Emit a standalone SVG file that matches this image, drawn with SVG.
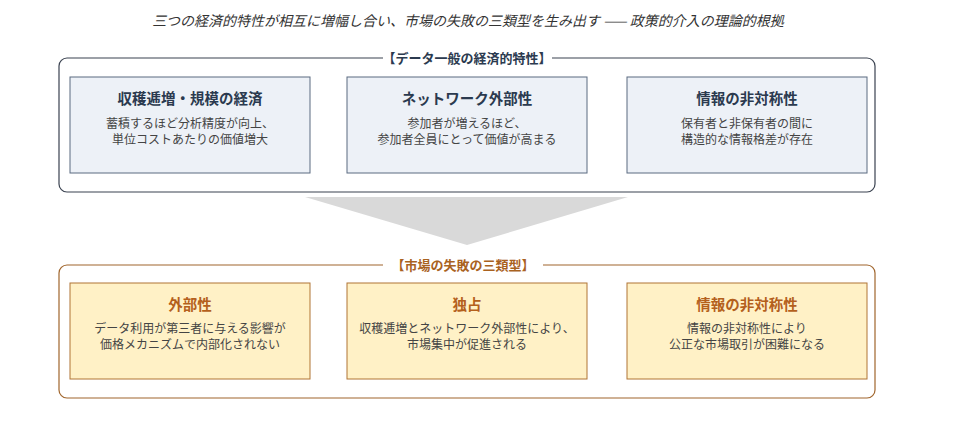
<svg xmlns="http://www.w3.org/2000/svg" width="954" height="423" viewBox="0 0 954 423">
<style>
text{font-family:"Noto Sans CJK JP","Noto Sans",sans-serif;text-anchor:middle}
.cap{font-size:14px;font-style:italic;fill:#333}
.grp{fill:#fff;stroke-width:1.2}
.g1{stroke:#3a4250}
.g2{stroke:#a0652c}
.lbl1{font-size:13px;font-weight:bold;fill:#2b3a4f}
.lbl2{font-size:13px;font-weight:bold;fill:#a9621f}
.b1{fill:#edf1f7;stroke:#5a6a80;stroke-width:1}
.b2{fill:#fff1c6;stroke:#b07434;stroke-width:1}
.t1{font-size:14.5px;font-weight:bold;fill:#2b3a4f}
.t2{font-size:14.5px;font-weight:bold;fill:#b4601c}
.d{font-size:12px;fill:#444}
</style>
<rect width="954" height="423" fill="#fff"/>
<text class="cap" x="468" y="26">三つの経済的特性が相互に増幅し合い、市場の失敗の三類型を生み出す —— 政策的介入の理論的根拠</text>

<g id="group-top">
<rect class="grp g1" x="59" y="58" width="816" height="134" rx="8"/>
<rect x="383" y="50" width="169" height="16" fill="#fff"/>
<text class="lbl1" x="467" y="63">【データ一般の経済的特性】</text>
</g>
<g id="connectors">
<polygon points="305,197 628,197 467,245" fill="#d9d9d9"/>
</g>
<g id="group-bottom">
<rect class="grp g2" x="59" y="265" width="816" height="133" rx="8"/>
<rect x="383" y="257" width="160" height="16" fill="#fff"/>
<text class="lbl2" x="463" y="270">【市場の失敗の三類型】</text>
</g>

<g id="n1">
<rect class="b1" x="70" y="77" width="240" height="96"/>
<text class="t1" x="190" y="104">収穫逓増・規模の経済</text>
<text class="d" x="190" y="128">蓄積するほど分析精度が向上、</text>
<text class="d" x="190" y="144">単位コストあたりの価値増大</text>
</g>
<g id="n2">
<rect class="b1" x="347" y="77" width="240" height="96"/>
<text class="t1" x="467" y="104">ネットワーク外部性</text>
<text class="d" x="467" y="128">参加者が増えるほど、</text>
<text class="d" x="467" y="144">参加者全員にとって価値が高まる</text>
</g>
<g id="n3">
<rect class="b1" x="627" y="77" width="240" height="96"/>
<text class="t1" x="747" y="104">情報の非対称性</text>
<text class="d" x="747" y="128">保有者と非保有者の間に</text>
<text class="d" x="747" y="144">構造的な情報格差が存在</text>
</g>

<g id="n4">
<rect class="b2" x="70" y="283" width="240" height="96"/>
<text class="t2" x="190" y="310">外部性</text>
<text class="d" x="190" y="333">データ利用が第三者に与える影響が</text>
<text class="d" x="190" y="349">価格メカニズムで内部化されない</text>
</g>
<g id="n5">
<rect class="b2" x="347" y="283" width="240" height="96"/>
<text class="t2" x="467" y="310">独占</text>
<text class="d" x="467" y="333">収穫逓増とネットワーク外部性により、</text>
<text class="d" x="467" y="349">市場集中が促進される</text>
</g>
<g id="n6">
<rect class="b2" x="627" y="283" width="240" height="96"/>
<text class="t2" x="747" y="310">情報の非対称性</text>
<text class="d" x="747" y="333">情報の非対称性により</text>
<text class="d" x="747" y="349">公正な市場取引が困難になる</text>
</g>
</svg>
